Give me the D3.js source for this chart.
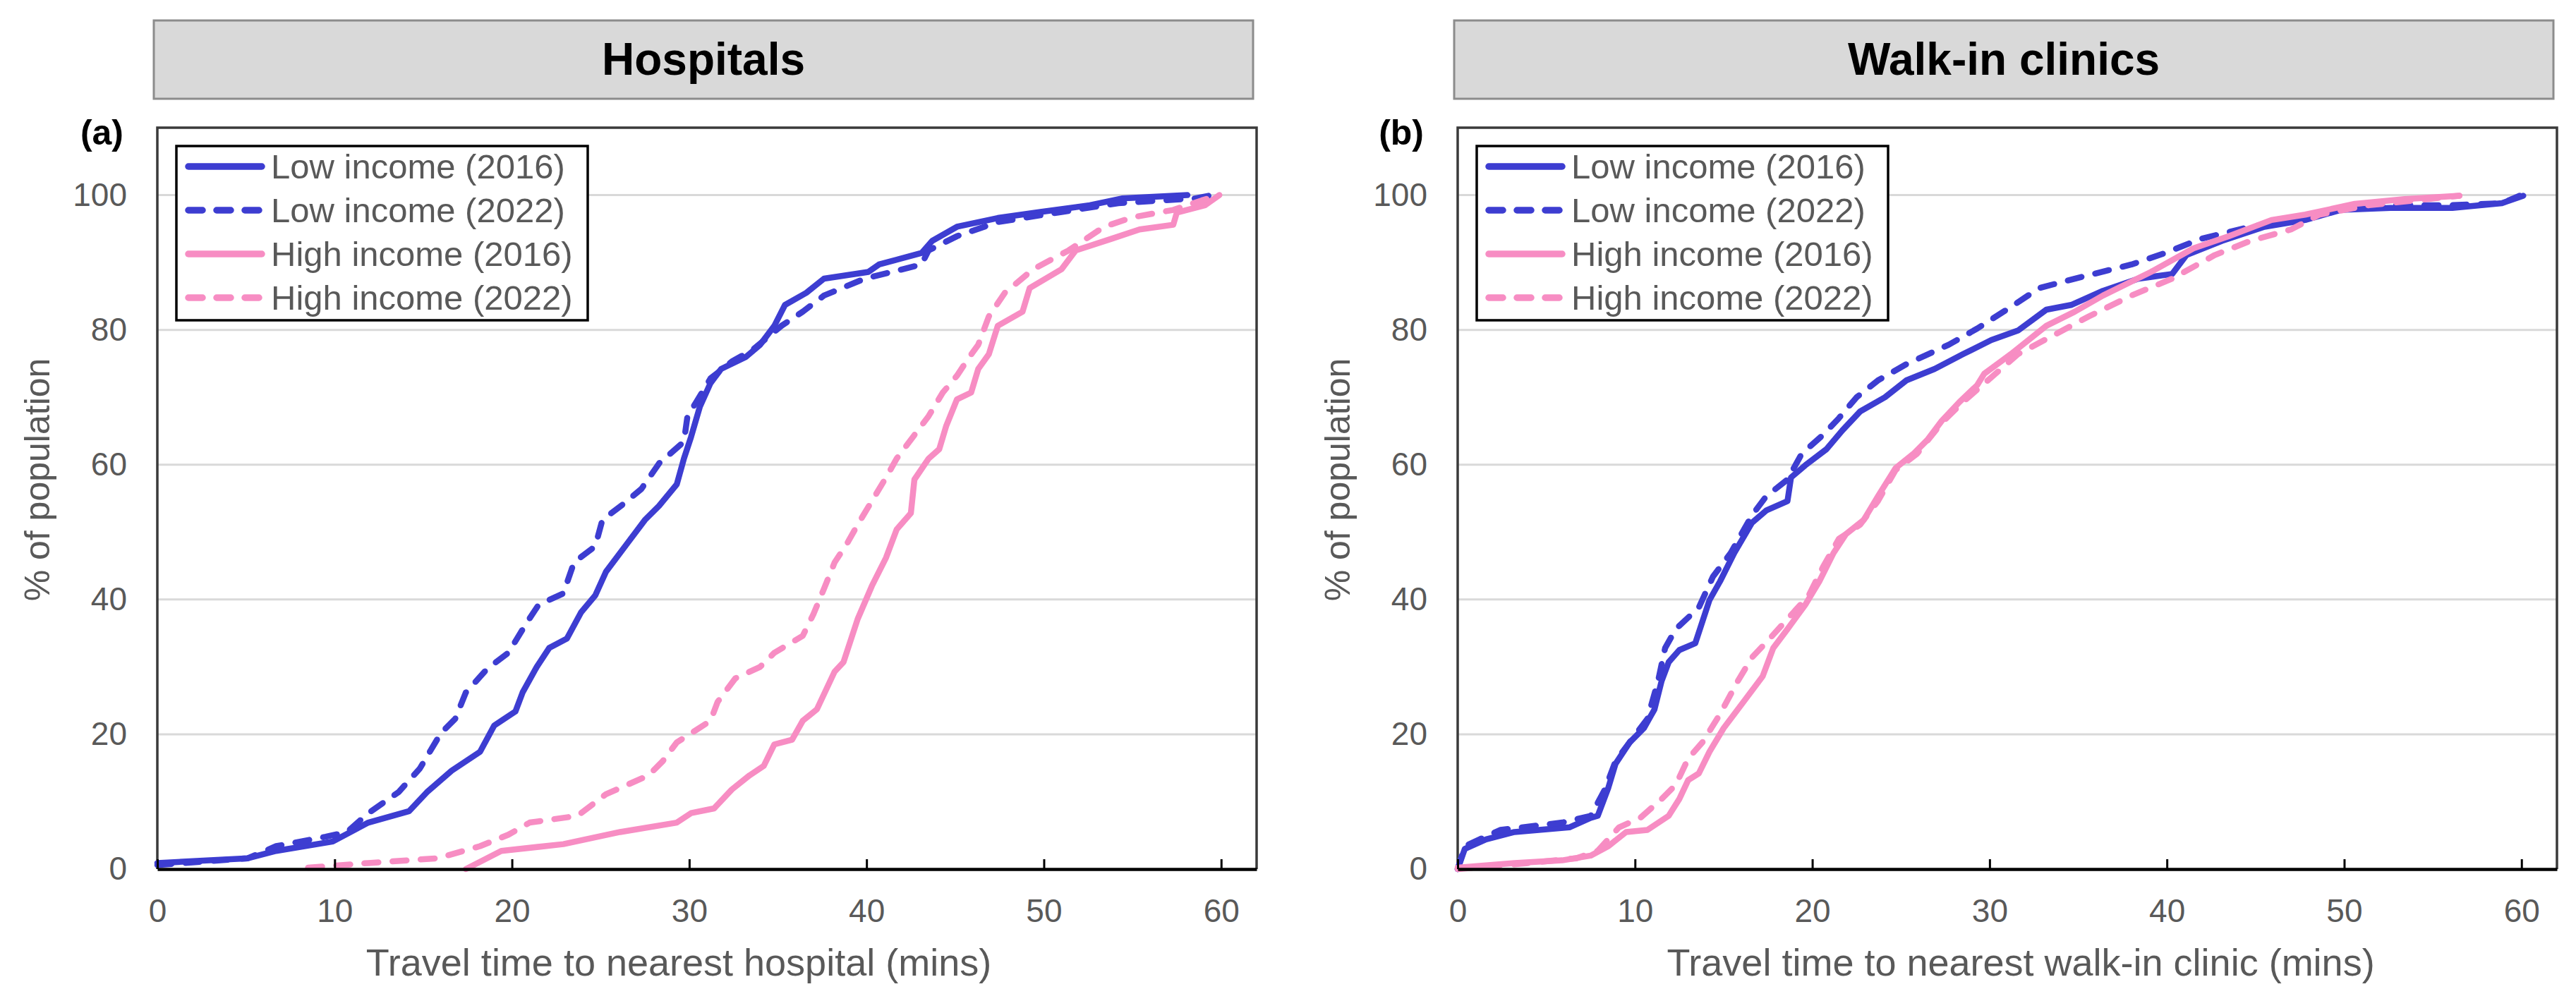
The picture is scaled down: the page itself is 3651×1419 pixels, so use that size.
<!DOCTYPE html>
<html>
<head>
<meta charset="utf-8">
<title>Travel time to nearest hospital / walk-in clinic</title>
<script src="https://cdn.jsdelivr.net/npm/d3@7"></script>
<style>
  html, body { margin: 0; padding: 0; background: #fff; }
  svg { display: block; font-family: "Liberation Sans", Arial, Helvetica, sans-serif; }
</style>
</head>
<body>
<div id="chart"></div>
<script>
'use strict';

/* ---- data ---- */
var xTicks = [0, 10, 20, 30, 40, 50, 60];
var yTicks = [0, 20, 40, 60, 80, 100];
var seriesNames = ['Low income (2016)', 'Low income (2022)', 'High income (2016)', 'High income (2022)'];
var panelTitles = ['Hospitals', 'Walk-in clinics'];
var panelLetters = ['(a)', '(b)'];
var xTitles = ['Travel time to nearest hospital (mins)', 'Travel time to nearest walk-in clinic (mins)'];
var yTitle = '% of population';

// [travel time (mins), cumulative % of population]
var hospLow2016 = [[0,0.9],[5.1,1.6],[6.7,2.7],[9.9,4.1],[11.9,6.9],[14.2,8.6],[15.2,11.4],[16.6,14.6],
  [18.2,17.4],[19.0,21.3],[20.2,23.4],[20.6,26.2],[21.4,30.0],[22.1,32.8],[23.1,34.2],[23.9,38.1],
  [24.7,40.6],[25.3,44.1],[26.5,48.3],[27.5,51.8],[28.3,53.9],[29.3,57.1],[29.7,60.9],[30.1,64.1],
  [30.6,68.6],[31.2,72.1],[31.8,74.2],[33.2,76.0],[34.0,77.8],[34.8,80.6],[35.4,83.7],[36.6,85.5],
  [37.6,87.6],[40.1,88.6],[40.7,89.7],[43.1,91.4],[43.7,93.2],[45.1,95.3],[47.4,96.6],[49.8,97.5],
  [52.6,98.5],[54.4,99.5],[58.1,100]];
var hospLow2022 = [[0,0.6],[5.1,1.6],[6.7,3.4],[9.5,4.8],[10.7,5.5],[11.9,8.3],[13.6,11.4],[14.8,14.9],
  [16.0,20.2],[16.8,22.3],[17.4,26.2],[18.6,29.7],[19.8,32.1],[20.8,36.4],[21.5,39.2],[22.9,40.9],
  [23.5,45.5],[24.7,47.9],[25.1,51.8],[26.3,54.2],[27.3,56.4],[28.3,60.2],[29.7,63.4],[29.9,67.2],
  [30.4,69.3],[31.2,72.8],[32.4,75.3],[33.6,77.1],[35.2,80.6],[36.4,82.7],[37.6,85.1],[39.9,87.6],
  [43.1,89.7],[43.5,91.8],[45.1,93.9],[47.4,96.0],[51.0,97.5],[54.2,98.8],[58.5,99.5],[59.5,100]];
var hospHigh2016 = [[17.4,0],[19.4,2.7],[22.9,3.7],[26.1,5.5],[29.3,6.9],[30.1,8.3],[31.4,9.0],[32.4,11.8],
  [33.4,13.9],[34.2,15.3],[34.8,18.5],[35.8,19.2],[36.4,22.0],[37.2,23.7],[38.2,29.3],[38.7,30.7],
  [39.5,37.1],[40.3,42.0],[41.1,46.2],[41.7,50.4],[42.5,52.8],[42.7,57.8],[43.5,60.9],[44.1,62.3],
  [44.5,65.8],[45.1,69.7],[45.9,70.7],[46.3,74.2],[46.9,76.4],[47.4,80.6],[48.8,82.7],[49.2,86.2],
  [51.0,89.0],[51.8,91.8],[53.8,93.5],[55.4,94.9],[57.3,95.6],[57.5,97.4],[59.1,98.5],[59.9,100]];
var hospHigh2022 = [[8.5,0.2],[11.9,0.9],[15.8,1.6],[18.2,3.4],[19.8,5.1],[21.0,6.9],[23.7,7.9],[25.3,11.1],
  [27.7,13.9],[28.5,16.0],[29.3,18.8],[31.2,22.0],[31.6,24.8],[32.6,28.3],[34.0,30.0],[34.8,32.1],
  [36.4,34.6],[37.0,37.8],[37.6,41.6],[38.2,45.5],[38.9,48.3],[39.5,51.1],[40.3,54.6],[41.1,58.1],
  [41.7,60.9],[42.7,64.4],[43.5,67.2],[44.3,70.7],[45.1,73.2],[45.7,75.6],[46.3,77.8],[46.9,82.0],
  [47.8,85.5],[49.4,89.0],[51.4,91.8],[53.4,95.3],[55.0,96.7],[57.3,97.8],[58.9,99.2],[59.9,100]];

var clinicLow2016 = [[0,0],[0.4,3.0],[1.6,4.4],[3.2,5.5],[6.3,6.2],[7.5,7.6],[7.9,7.9],[8.5,12.1],
  [8.9,15.6],[9.7,18.8],[10.5,20.9],[11.1,23.7],[11.5,27.9],[11.9,30.7],[12.5,32.5],[13.4,33.5],
  [14.2,39.9],[14.8,42.7],[15.6,46.9],[16.6,51.4],[17.4,53.2],[18.6,54.6],[18.8,58.1],[19.6,59.9],
  [20.8,62.3],[21.7,65.1],[22.7,67.9],[24.1,70.0],[25.3,72.5],[26.9,74.2],[28.5,76.4],[30.1,78.5],
  [31.6,79.9],[33.2,83.0],[34.6,83.7],[36.4,85.8],[38.4,87.6],[40.3,88.3],[41.1,91.1],[43.1,93.2],
  [45.5,95.3],[47.8,96.3],[49.8,97.8],[52.6,98.1],[56.1,98.1],[58.9,98.8],[60.1,99.9]];
var clinicLow2022 = [[0,0],[0.4,3.4],[2.4,5.8],[5.9,6.9],[7.5,7.9],[8.3,11.8],[8.9,16.0],[9.9,19.5],
  [10.7,22.3],[11.3,27.9],[11.7,32.8],[12.3,35.6],[13.6,38.8],[14.4,43.4],[15.4,46.9],[16.6,52.5],
  [17.4,55.3],[18.6,57.8],[19.4,61.6],[20.6,64.4],[21.5,66.9],[22.5,70.0],[23.7,72.5],[25.3,74.9],
  [27.7,77.8],[29.3,80.2],[31.2,83.4],[32.8,86.2],[34.8,87.6],[38.0,89.7],[39.9,91.4],[41.9,93.5],
  [44.7,95.3],[47.4,96.3],[49.8,98.1],[52.6,98.5],[56.1,98.5],[58.9,98.8],[59.9,99.9]];
var clinicHigh2016 = [[0,0.2],[3.2,0.9],[5.9,1.3],[7.5,2.0],[8.5,3.4],[9.5,5.5],[10.7,5.8],[11.9,7.9],
  [12.5,10.4],[13.0,13.2],[13.6,14.2],[14.2,17.4],[15.0,20.9],[16.2,25.1],[17.2,28.6],[17.8,32.8],
  [18.6,35.6],[19.6,39.2],[20.4,42.7],[21.2,46.9],[21.9,49.7],[22.9,51.8],[23.7,55.3],[24.7,59.5],
  [25.7,61.6],[26.5,63.7],[27.3,66.5],[28.3,69.3],[29.3,71.8],[29.7,73.5],[31.2,76.4],[33.2,80.6],
  [34.8,82.7],[36.4,85.1],[39.1,88.6],[41.5,92.1],[43.5,93.9],[45.9,96.3],[47.8,97.1],[50.6,98.7],
  [53.4,99.4],[56.5,99.9]];
var clinicHigh2022 = [[0,0],[4.0,0.9],[6.7,1.6],[7.9,2.7],[9.1,6.2],[10.3,7.6],[11.5,10.4],[12.3,12.5],
  [13.0,16.4],[13.8,18.8],[14.8,23.0],[15.8,27.9],[16.6,31.4],[17.6,34.2],[18.6,37.1],[19.8,40.6],
  [20.6,44.8],[21.5,49.0],[22.7,51.1],[23.7,54.6],[24.7,59.2],[25.9,61.6],[27.3,66.2],[28.5,69.3],
  [29.9,72.5],[31.6,76.4],[33.6,79.2],[35.6,82.0],[38.0,85.1],[40.3,87.6],[42.7,91.1],[44.7,93.2],
  [47.0,94.9],[48.6,97.1],[51.4,98.5],[56.5,99.9]];

var hospitalSeries = [hospLow2016, hospLow2022, hospHigh2016, hospHigh2022];
var clinicSeries = [clinicLow2016, clinicLow2022, clinicHigh2016, clinicHigh2022];

/* ---- look ---- */
var width = 3651;
var height = 1419;
var blue = '#3d3dd1';
var pink = '#f78dc3';
var textGray = '#595959';
var seriesColors = [blue, blue, pink, pink];
var seriesDashed = [false, true, false, true];

var plotLefts = [223, 2066];
var plotWidth = 1558;
var plotTop = 181;
var plotBottom = 1232;

var svg = d3.select('#chart').append('svg')
  .attr('width', width)
  .attr('height', height)
  .attr('viewBox', '0 0 ' + width + ' ' + height);

svg.append('rect').attr('width', width).attr('height', height).attr('fill', '#fff');

/**
 * Draw one panel (header, frame, axes, curves, legend)
 * @param {number} p       panel index
 * @param {Array}  series  four series of [mins, pct]
 */
var drawPanel = function (p, series) {
  var left = plotLefts[p];
  var right = left + plotWidth;

  var x = d3.scaleLinear().domain([0, 62]).range([left, right]);
  var y = d3.scaleLinear().domain([0, 110]).range([plotBottom, plotTop]);

  var g = svg.append('g').attr('class', 'panel-' + p);

  // header strip
  g.append('rect')
    .attr('x', left - 5).attr('y', 29)
    .attr('width', plotWidth).attr('height', 111)
    .attr('fill', '#d9d9d9')
    .attr('stroke', '#8c8c8c')
    .attr('stroke-width', 3);

  g.append('text')
    .attr('x', left - 5 + plotWidth / 2)
    .attr('y', 106)
    .attr('text-anchor', 'middle')
    .attr('font-size', 64)
    .attr('font-weight', 'bold')
    .attr('fill', '#000')
    .text(panelTitles[p]);

  // panel letter
  g.append('text')
    .attr('x', left - 48)
    .attr('y', 205)
    .attr('text-anchor', 'end')
    .attr('font-size', 50)
    .attr('font-weight', 'bold')
    .attr('fill', '#000')
    .text(panelLetters[p]);

  // gridlines
  g.append('g').selectAll('line')
    .data(yTicks.filter(function (d) { return d > 0; }))
    .enter()
    .append('line')
      .attr('x1', left).attr('x2', right)
      .attr('y1', function (d) { return y(d); })
      .attr('y2', function (d) { return y(d); })
      .attr('stroke', '#d9d9d9')
      .attr('stroke-width', 3);

  // frame (left, top, right)
  g.append('path')
    .attr('d', 'M' + left + ',' + plotBottom + 'V' + plotTop + 'H' + right + 'V' + plotBottom)
    .attr('fill', 'none')
    .attr('stroke', '#3a3a3a')
    .attr('stroke-width', 3.5);

  // y axis labels
  var yAxis = d3.axisLeft(y).tickValues(yTicks).tickSize(0).tickPadding(43);
  var yg = g.append('g').attr('transform', 'translate(' + left + ',0)').call(yAxis);
  yg.select('.domain').remove();
  yg.selectAll('text').attr('font-size', 46).attr('fill', textGray).attr('font-family', null);

  // curves
  var line = d3.line()
    .x(function (d) { return x(d[0]); })
    .y(function (d) { return y(d[1]); });

  g.append('g').selectAll('path')
    .data(series)
    .enter()
    .append('path')
      .attr('d', line)
      .attr('fill', 'none')
      .attr('stroke', function (d, i) { return seriesColors[i]; })
      .attr('stroke-width', 8.5)
      .attr('stroke-linejoin', 'round')
      .attr('stroke-linecap', 'round')
      .attr('stroke-dasharray', function (d, i) { return seriesDashed[i] ? '20,20' : null; });

  // x axis with inward ticks
  var xAxis = d3.axisBottom(x).tickValues(xTicks).tickSizeInner(-14).tickSizeOuter(0).tickPadding(42);
  var xg = g.append('g').attr('transform', 'translate(0,' + plotBottom + ')').call(xAxis);
  xg.select('.domain').attr('stroke', '#000').attr('stroke-width', 4.5);
  xg.selectAll('.tick line').attr('stroke', '#000').attr('stroke-width', 3);
  xg.selectAll('text').attr('font-size', 46).attr('fill', textGray).attr('font-family', null);

  // axis titles
  g.append('text')
    .attr('x', p === 0 ? 962 : 2864)
    .attr('y', 1383)
    .attr('text-anchor', 'middle')
    .attr('font-size', 54)
    .attr('fill', textGray)
    .text(xTitles[p]);

  g.append('text')
    .attr('transform', 'translate(' + (left - 153) + ',680) rotate(-90)')
    .attr('text-anchor', 'middle')
    .attr('font-size', 50)
    .attr('fill', textGray)
    .text(yTitle);

  // legend
  var lx = left + 27;
  var ly = plotTop + 26;
  var legend = g.append('g').attr('transform', 'translate(' + lx + ',' + ly + ')');

  legend.append('rect')
    .attr('width', 583).attr('height', 247)
    .attr('fill', '#fff')
    .attr('stroke', '#000')
    .attr('stroke-width', 3.5);

  var rows = legend.selectAll('g.row')
    .data(seriesNames)
    .enter()
    .append('g')
      .attr('class', 'row')
      .attr('transform', function (d, i) { return 'translate(0,' + (29 + i * 62) + ')'; });

  rows.append('line')
    .attr('x1', 17).attr('x2', 121)
    .attr('stroke', function (d, i) { return seriesColors[i]; })
    .attr('stroke-width', 9.5)
    .attr('stroke-linecap', 'round')
    .attr('stroke-dasharray', function (d, i) { return seriesDashed[i] ? '20,20' : null; });

  rows.append('text')
    .attr('x', 134)
    .attr('dy', '0.35em')
    .attr('font-size', 49)
    .attr('fill', textGray)
    .text(function (d) { return d; });
};

drawPanel(0, hospitalSeries);
drawPanel(1, clinicSeries);
</script>
</body>
</html>
